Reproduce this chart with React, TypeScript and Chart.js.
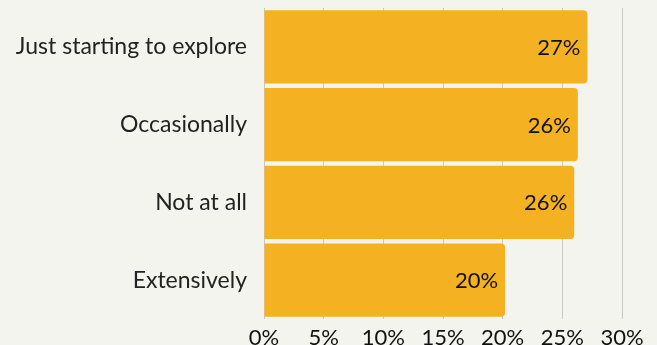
import React, { useEffect, useRef } from "react";
import { Chart, registerables } from "chart.js";

Chart.register(...registerables);

const categories = ["Just starting to explore", "Occasionally", "Not at all", "Extensively"];
const values = [27.1, 26.3, 26.0, 20.2];
const xTicks = [0, 5, 10, 15, 20, 25, 30];

const BG = "#f4f4ef";
const BAR = "#f4b223";
const FONT = "Lato, 'Open Sans', sans-serif";

const labelPlugin = {
  id: "barLabels",
  afterDatasetsDraw(chart: any) {
    const { ctx } = chart;
    const meta = chart.getDatasetMeta(0);
    ctx.save();
    ctx.font = `22px ${FONT}`;
    ctx.fillStyle = "#111";
    ctx.textAlign = "right";
    ctx.textBaseline = "middle";
    meta.data.forEach((bar: any, i: number) => {
      ctx.fillText(Math.round(values[i]) + "%", bar.x - 7, bar.y + 1);
    });
    ctx.restore();
  },
};

export default function App() {
  const ref = useRef<HTMLCanvasElement>(null);
  useEffect(() => {
    document.body.style.margin = "0";
    const chart = new Chart(ref.current!, {
      type: "bar",
      data: {
        labels: categories,
        datasets: [
          {
            data: values,
            backgroundColor: BAR,
            borderRadius: { topRight: 4, bottomRight: 4, topLeft: 0, bottomLeft: 0 },
            borderSkipped: false,
            barPercentage: 0.94,
            categoryPercentage: 1,
          },
        ],
      },
      options: {
        indexAxis: "y",
        responsive: false,
        animation: false,
        layout: { padding: { top: 8, right: 35, bottom: 0, left: 0 } },
        plugins: { legend: { display: false }, tooltip: { enabled: false } },
        scales: {
          x: {
            min: 0,
            max: 30,
            afterBuildTicks: (s: any) => {
              s.ticks = xTicks.map((v) => ({ value: v }));
            },
            afterFit: (s: any) => {
              s.height = 26;
              s.paddingLeft = 0;
              s.paddingRight = 0;
            },
            grid: { color: "#c9c9c5", drawTicks: false },
            border: { display: false },
            ticks: {
              padding: 6,
              color: "#111",
              font: { family: FONT, size: 22 },
              callback: (v: any) => v + "%",
              maxRotation: 0,
              autoSkip: false,
            },
          },
          y: {
            afterFit: (s: any) => {
              s.width = 264;
              s.paddingTop = 0;
              s.paddingBottom = 0;
            },
            grid: { display: false, drawTicks: false },
            border: { display: false },
            ticks: {
              padding: 17,
              color: "#222",
              font: { family: FONT, size: 23 },
            },
          },
        },
      },
      plugins: [labelPlugin],
    });
    return () => chart.destroy();
  }, []);
  return (
    <div style={{ width: 657, height: 345, background: BG }}>
      <canvas ref={ref} width={657} height={345} />
    </div>
  );
}
